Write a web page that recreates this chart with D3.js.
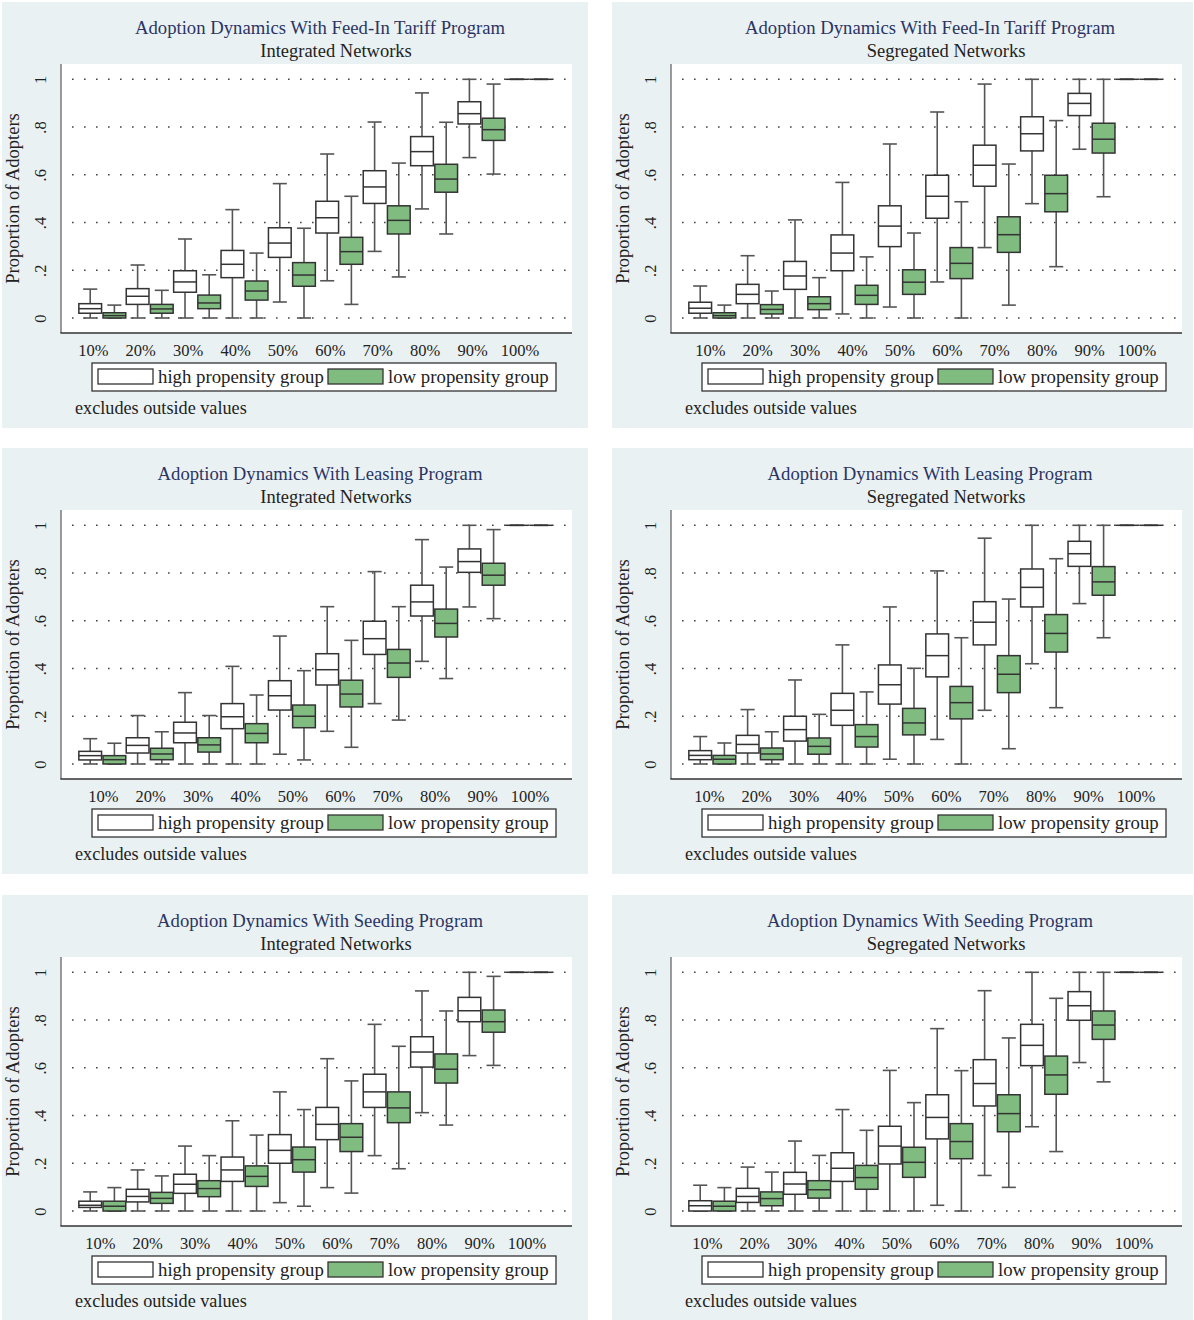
<!DOCTYPE html>
<html>
<head>
<meta charset="utf-8">
<script src="https://cdn.jsdelivr.net/npm/d3@7/dist/d3.min.js"></script>
<style>
  body { margin: 0; background: #fff; }
  text { font-family: "Liberation Serif", "Times New Roman", serif; }
</style>
</head>
<body>
<svg id="chart" width="1194" height="1320"></svg>
<script>
// categories and labels
const categories = ["10%", "20%", "30%", "40%", "50%", "60%", "70%", "80%", "90%", "100%"];
const groups = ["high propensity group", "low propensity group"];
const titles = ["Adoption Dynamics With Feed-In Tariff Program",
                "Adoption Dynamics With Leasing Program",
                "Adoption Dynamics With Seeding Program"];
const subtitles = ["Integrated Networks", "Segregated Networks"];
const yTicks = [0, 0.2, 0.4, 0.6, 0.8, 1];
const yTickLabels = ["0", ".2", ".4", ".6", ".8", "1"];

// each row: [lower whisker, q1, median, q3, upper whisker]
const fitIntHigh = [[0,.020,.039,.060,.121],[0,.057,.091,.123,.222],[0,.108,.151,.198,.331],[0,.169,.225,.283,.454],[.067,.254,.314,.378,.563],
  [.156,.356,.420,.489,.687],[.279,.480,.549,.617,.821],[.457,.638,.697,.760,.943],[.672,.813,.856,.906,1],[1,1,1,1,1]];
const fitIntLow = [[0,0,.010,.022,.054],[0,.020,.038,.057,.116],[0,.039,.063,.096,.181],[0,.075,.113,.155,.272],[0,.133,.180,.232,.376],
  [.057,.225,.278,.338,.510],[.172,.352,.409,.470,.649],[.352,.527,.582,.644,.820],[.603,.744,.789,.837,.980],[1,1,1,1,1]];
const fitSegHigh = [[0,.020,.041,.066,.134],[0,.060,.099,.141,.261],[0,.120,.176,.237,.411],[.017,.198,.272,.348,.568],[.046,.299,.385,.470,.729],
  [.151,.418,.510,.598,.863],[.295,.552,.640,.724,.980],[.479,.700,.772,.843,1],[.707,.848,.899,.941,1],[1,1,1,1,1]];
const fitSegLow = [[0,0,.010,.022,.054],[0,.017,.036,.056,.113],[0,.035,.060,.089,.169],[0,.057,.095,.137,.256],[0,.099,.150,.202,.356],
  [0,.165,.229,.295,.487],[.054,.275,.349,.424,.645],[.215,.445,.521,.598,.827],[.508,.691,.749,.816,1],[1,1,1,1,1]];
const leaseIntHigh = [[0,.017,.035,.053,.106],[0,.046,.078,.110,.203],[0,.089,.130,.175,.299],[0,.148,.198,.253,.409],[.041,.226,.286,.349,.536],
  [.137,.331,.395,.462,.659],[.253,.459,.525,.598,.806],[.430,.620,.679,.749,.940],[.658,.803,.848,.901,1],[1,1,1,1,1]];
const leaseIntLow = [[0,0,.018,.035,.087],[0,.018,.042,.066,.135],[0,.050,.080,.110,.203],[0,.089,.128,.169,.289],[.017,.152,.200,.247,.391],
  [.070,.239,.293,.351,.518],[.184,.363,.423,.480,.659],[.358,.532,.589,.649,.825],[.609,.749,.791,.841,.982],[1,1,1,1,1]];
const leaseSegHigh = [[0,.018,.036,.056,.115],[0,.046,.082,.120,.228],[0,.096,.144,.200,.352],[0,.162,.225,.296,.499],[.020,.251,.332,.415,.658],
  [.103,.365,.454,.545,.809],[.225,.499,.594,.680,.946],[.420,.658,.740,.817,1],[.672,.828,.881,.933,1],[1,1,1,1,1]];
const leaseSegLow = [[0,0,.020,.036,.088],[0,.018,.042,.067,.135],[0,.041,.074,.109,.208],[0,.071,.115,.165,.302],[0,.122,.172,.233,.401],
  [0,.189,.257,.325,.529],[.064,.299,.376,.454,.691],[.236,.469,.547,.626,.860],[.529,.707,.763,.827,1],[1,1,1,1,1]];
const seedIntHigh = [[0,.015,.024,.041,.080],[0,.038,.061,.091,.172],[0,.074,.112,.154,.272],[0,.124,.172,.226,.378],[.035,.200,.254,.320,.499],
  [.098,.299,.363,.434,.638],[.232,.434,.499,.573,.782],[.412,.603,.666,.730,.922],[.651,.793,.839,.895,1],[1,1,1,1,1]];
const seedIntLow = [[0,0,.020,.041,.098],[0,.032,.053,.078,.147],[0,.060,.094,.127,.232],[0,.103,.145,.189,.318],[.020,.163,.215,.268,.425],
  [.075,.249,.309,.366,.545],[.177,.370,.432,.499,.690],[.360,.536,.594,.658,.838],[.610,.749,.793,.842,.983],[1,1,1,1,1]];
const seedSegHigh = [[0,0,.022,.043,.108],[0,.036,.061,.095,.184],[0,.070,.113,.162,.293],[0,.124,.179,.244,.425],[0,.197,.272,.355,.589],
  [.024,.302,.392,.487,.764],[.149,.440,.534,.634,.923],[.353,.609,.694,.782,1],[.622,.799,.860,.919,1],[1,1,1,1,1]];
const seedSegLow = [[0,0,.020,.041,.098],[0,.022,.052,.080,.163],[0,.054,.089,.127,.233],[0,.091,.140,.191,.338],[0,.141,.204,.267,.454],
  [0,.219,.291,.366,.588],[.099,.332,.408,.487,.725],[.249,.489,.570,.649,.891],[.541,.719,.779,.838,1],[1,1,1,1,1]];

const panels = [
  { title: titles[0], sub: subtitles[0], high: fitIntHigh,   low: fitIntLow,   col: 0, row: 0, labelShift: -9 },
  { title: titles[0], sub: subtitles[1], high: fitSegHigh,   low: fitSegLow,   col: 1, row: 0, labelShift: -2 },
  { title: titles[1], sub: subtitles[0], high: leaseIntHigh, low: leaseIntLow, col: 0, row: 1, labelShift: 1 },
  { title: titles[1], sub: subtitles[1], high: leaseSegHigh, low: leaseSegLow, col: 1, row: 1, labelShift: -3 },
  { title: titles[2], sub: subtitles[0], high: seedIntHigh,  low: seedIntLow,  col: 0, row: 2, labelShift: -2 },
  { title: titles[2], sub: subtitles[1], high: seedSegHigh,  low: seedSegLow,  col: 1, row: 2, labelShift: -5 }
];

const svg = d3.select("#chart");
const colX = [0, 610];
const rowY = [0, 446, 893];
const fills = { high: "#ffffff", low: "#80bb80" };
const boxStroke = "#333";
const whiskerStroke = "#555";

// plot region (local to each panel)
const plot = { left: 61, right: 572, top: 64, bottom: 333 };

const x = d3.scaleBand().domain(categories).range([78.6, 552.6]).padding(0);
const sub = d3.scaleBand().domain(["high", "low"]).range([0, x.bandwidth()])
  .paddingInner(0.06).paddingOuter(0.01);
const y = d3.scaleLinear().domain([0, 1]).range([318, 79.3]);

panels.forEach(function(p) {
  const g = svg.append("g")
    .attr("transform", `translate(${colX[p.col]}, ${rowY[p.row]})`);

  // panel background
  g.append("rect")
    .attr("x", 2).attr("y", 2)
    .attr("width", p.col === 0 ? 586 : 581).attr("height", 426)
    .attr("fill", "#eaf1f3");

  // white plot region
  g.append("rect")
    .attr("x", plot.left).attr("y", plot.top)
    .attr("width", plot.right - plot.left).attr("height", plot.bottom - plot.top)
    .attr("fill", "#fff");

  // titles
  g.append("text")
    .attr("x", 320).attr("y", 34)
    .attr("text-anchor", "middle")
    .attr("font-size", 18.7)
    .attr("fill", "#2b3563")
    .text(p.title);
  g.append("text")
    .attr("x", 336).attr("y", 57)
    .attr("text-anchor", "middle")
    .attr("font-size", 18.5)
    .attr("fill", "#222")
    .text(p.sub);

  // dotted gridlines
  g.append("g").selectAll("line").data(yTicks)
    .enter().append("line")
      .attr("x1", 72).attr("x2", plot.right - 2)
      .attr("y1", d => y(d)).attr("y2", d => y(d))
      .attr("stroke", "#444")
      .attr("stroke-width", 1.6)
      .attr("stroke-dasharray", "1.6,10.4");

  // y axis with rotated labels
  const yAxis = d3.axisLeft(y)
    .tickValues(yTicks)
    .tickSize(0)
    .tickFormat((d, i) => yTickLabels[i]);
  const yAxisG = g.append("g")
    .attr("transform", `translate(${plot.left}, 0)`)
    .call(yAxis);
  yAxisG.select(".domain").remove();
  yAxisG.selectAll("text")
    .attr("transform", "rotate(-90)")
    .attr("x", 0).attr("y", -15).attr("dy", 0)
    .attr("text-anchor", "middle")
    .attr("font-size", 16.5)
    .attr("font-family", "Liberation Serif")
    .attr("fill", "#222");

  g.append("text")
    .attr("transform", `translate(19, 198.5) rotate(-90)`)
    .attr("text-anchor", "middle")
    .attr("font-size", 18.5)
    .attr("fill", "#222")
    .text("Proportion of Adopters");

  // x axis labels
  const xAxis = d3.axisBottom(x).tickSize(0).tickPadding(11);
  const xAxisG = g.append("g")
    .attr("transform", `translate(${p.labelShift}, ${plot.bottom})`)
    .call(xAxis);
  xAxisG.select(".domain").remove();
  xAxisG.selectAll("text")
    .attr("font-size", 16.5)
    .attr("font-family", "Liberation Serif")
    .attr("fill", "#222");

  // axis lines
  g.append("line")
    .attr("x1", plot.left).attr("x2", plot.left)
    .attr("y1", plot.top).attr("y2", plot.bottom)
    .attr("stroke", "#666").attr("stroke-width", 1.3);
  g.append("line")
    .attr("x1", plot.left - 0.6).attr("x2", plot.right)
    .attr("y1", plot.bottom).attr("y2", plot.bottom)
    .attr("stroke", "#333").attr("stroke-width", 1.5);

  // box data
  const rows = [];
  categories.forEach(function(c, i) {
    rows.push({ cat: c, grp: "high", v: p.high[i] });
    rows.push({ cat: c, grp: "low", v: p.low[i] });
  });

  const bw = sub.bandwidth();
  const capW = bw * 0.62;
  const boxes = g.append("g").selectAll("g").data(rows)
    .enter().append("g")
      .attr("transform", d => `translate(${x(d.cat) + sub(d.grp)}, 0)`);

  // whiskers
  boxes.append("line")
    .attr("x1", bw / 2).attr("x2", bw / 2)
    .attr("y1", d => y(d.v[3])).attr("y2", d => y(d.v[4]))
    .attr("stroke", whiskerStroke).attr("stroke-width", 1.6);
  boxes.append("line")
    .attr("x1", bw / 2).attr("x2", bw / 2)
    .attr("y1", d => y(d.v[1])).attr("y2", d => y(d.v[0]))
    .attr("stroke", whiskerStroke).attr("stroke-width", 1.6);
  // caps
  boxes.append("line")
    .attr("x1", (bw - capW) / 2).attr("x2", (bw + capW) / 2)
    .attr("y1", d => y(d.v[4])).attr("y2", d => y(d.v[4]))
    .attr("stroke", whiskerStroke).attr("stroke-width", 1.6);
  boxes.append("line")
    .attr("x1", (bw - capW) / 2).attr("x2", (bw + capW) / 2)
    .attr("y1", d => y(d.v[0])).attr("y2", d => y(d.v[0]))
    .attr("stroke", whiskerStroke).attr("stroke-width", 1.6);
  // box
  boxes.append("rect")
    .attr("x", 0).attr("width", bw)
    .attr("y", d => y(d.v[3]))
    .attr("height", d => y(d.v[1]) - y(d.v[3]))
    .attr("fill", d => fills[d.grp])
    .attr("stroke", boxStroke).attr("stroke-width", 1.5);
  // median
  boxes.append("line")
    .attr("x1", 0).attr("x2", bw)
    .attr("y1", d => y(d.v[2])).attr("y2", d => y(d.v[2]))
    .attr("stroke", boxStroke).attr("stroke-width", 1.5);

  // legend
  const lg = g.append("g");
  lg.append("rect")
    .attr("x", 92).attr("y", 363).attr("width", 464).attr("height", 28)
    .attr("fill", "#fff").attr("stroke", "#333").attr("stroke-width", 1.3);
  const legendX = [98, 328];
  ["high", "low"].forEach(function(k, i) {
    lg.append("rect")
      .attr("x", legendX[i]).attr("y", 369).attr("width", 55).attr("height", 15)
      .attr("fill", fills[k]).attr("stroke", boxStroke).attr("stroke-width", 1.3);
    lg.append("text")
      .attr("x", legendX[i] + 60).attr("y", 383)
      .attr("font-size", 18.8)
      .attr("fill", "#222")
      .text(groups[i]);
  });

  g.append("text")
    .attr("x", 75).attr("y", 414)
    .attr("font-size", 18.2)
    .attr("fill", "#222")
    .text("excludes outside values");
});
</script>
</body>
</html>
